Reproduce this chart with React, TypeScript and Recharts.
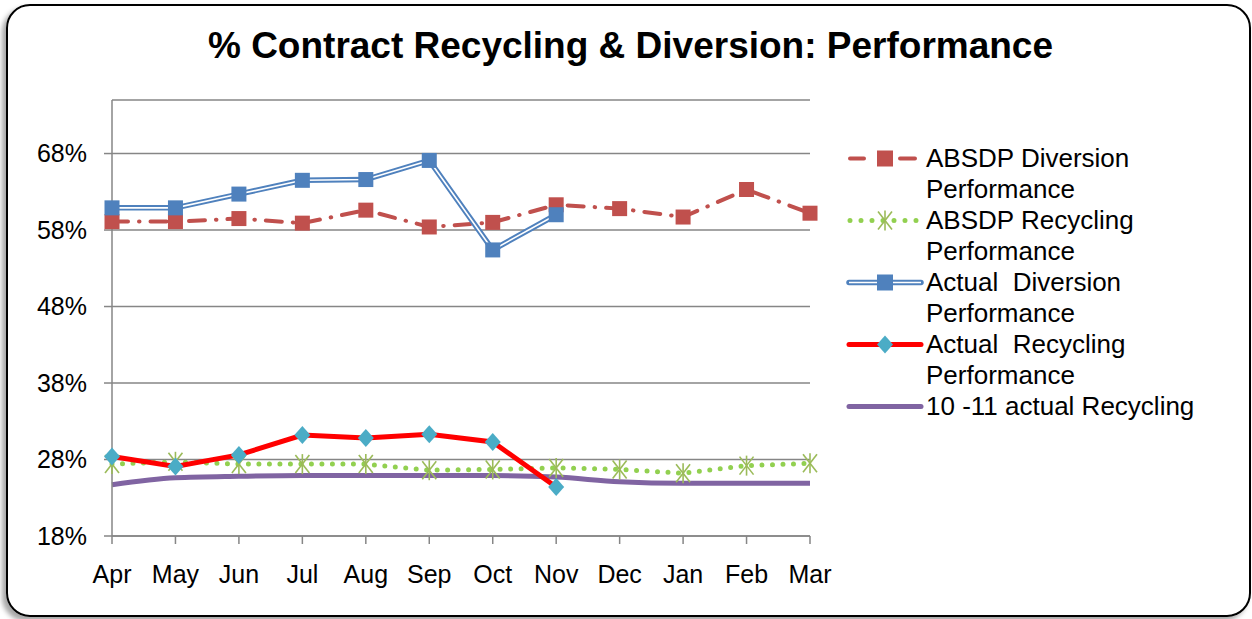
import { LineChart, Line, XAxis, YAxis, CartesianGrid } from "recharts";

const months = ["Apr", "May", "Jun", "Jul", "Aug", "Sep", "Oct", "Nov", "Dec", "Jan", "Feb", "Mar"];
const absdpDiversion = [0.591, 0.591, 0.595, 0.589, 0.606, 0.584, 0.59, 0.613, 0.608, 0.597, 0.633, 0.602];
const absdpRecycling = [0.274, 0.277, 0.274, 0.274, 0.274, 0.266, 0.267, 0.269, 0.267, 0.262, 0.272, 0.275];
const actualDiversion = [0.609, 0.609, 0.627, 0.645, 0.646, 0.671, 0.554, 0.6, null, null, null, null];
const actualRecycling = [0.284, 0.271, 0.286, 0.312, 0.308, 0.313, 0.303, 0.244, null, null, null, null];
const lastYearRecycling = [0.247, 0.256, 0.258, 0.259, 0.259, 0.259, 0.259, 0.257, 0.251, 0.249, 0.249, 0.249];
const yTicks = [0.18, 0.28, 0.38, 0.48, 0.58, 0.68];

const legendNames = [
  "ABSDP Diversion Performance",
  "ABSDP Recycling Performance",
  "Actual  Diversion Performance",
  "Actual  Recycling Performance",
  "10 -11 actual Recycling",
];

const data = months.map((m, i) => ({
  month: m,
  absdpDiv: absdpDiversion[i],
  absdpRec: absdpRecycling[i],
  actDiv: actualDiversion[i],
  actRec: actualRecycling[i],
  lastRec: lastYearRecycling[i],
}));

const FONT = "'Liberation Sans', Arial, sans-serif";
const RED = "#C0504D";
const GREEN = "#92D050";
const OLIVE = "#9BBB59";
const BLUE = "#4F81BD";
const CYAN = "#4BACC6";
const PURPLE = "#8064A2";
const AXIS = "#868686";

const Square = (color: string) => (props: any) => {
  const { cx, cy, index } = props;
  if (cx == null || cy == null) return <g key={index} />;
  return <rect key={index} x={cx - 7.5} y={cy - 7.5} width={15} height={15} fill={color} />;
};

const Star = (props: any) => {
  const { cx, cy, index } = props;
  if (cx == null || cy == null) return <g key={index} />;
  return (
    <g key={index} stroke={OLIVE} strokeWidth={1.6}>
      <line x1={cx - 7} y1={cy - 9} x2={cx + 7} y2={cy + 9} />
      <line x1={cx + 7} y1={cy - 9} x2={cx - 7} y2={cy + 9} />
      <line x1={cx} y1={cy - 10} x2={cx} y2={cy + 10} />
    </g>
  );
};

const Diamond = (props: any) => {
  const { cx, cy, index } = props;
  if (cx == null || cy == null) return <g key={index} />;
  return (
    <polygon
      key={index}
      points={`${cx},${cy - 9} ${cx + 8},${cy} ${cx},${cy + 9} ${cx - 8},${cy}`}
      fill={CYAN}
    />
  );
};

function LegendIcon({ kind }: { kind: number }) {
  const y = 15.5;
  return (
    <svg width={81} height={31} style={{ flex: "none" }}>
      {kind === 0 && (
        <g>
          <line x1={5} y1={y} x2={19} y2={y} stroke={RED} strokeWidth={4} strokeLinecap="round" />
          <rect x={32} y={y - 8} width={16} height={16} fill={RED} />
          <line x1={55} y1={y} x2={70} y2={y} stroke={RED} strokeWidth={4} strokeLinecap="round" />
        </g>
      )}
      {kind === 1 && (
        <g>
          <line x1={5} y1={y} x2={74} y2={y} stroke={GREEN} strokeWidth={5} strokeLinecap="round" strokeDasharray="0 11" />
          <g stroke={OLIVE} strokeWidth={1.6}>
            <line x1={33} y1={y - 9} x2={47} y2={y + 9} />
            <line x1={47} y1={y - 9} x2={33} y2={y + 9} />
            <line x1={40} y1={y - 10} x2={40} y2={y + 10} />
          </g>
        </g>
      )}
      {kind === 2 && (
        <g>
          <line x1={4} y1={y} x2={76} y2={y} stroke={BLUE} strokeWidth={5.5} strokeLinecap="round" />
          <line x1={4} y1={y} x2={76} y2={y} stroke="#fff" strokeWidth={1.6} />
          <rect x={32} y={y - 8} width={16} height={16} fill={BLUE} />
        </g>
      )}
      {kind === 3 && (
        <g>
          <line x1={4} y1={y} x2={76} y2={y} stroke="#FF0000" strokeWidth={5} strokeLinecap="round" />
          <polygon points={`40,${y - 9} 48,${y} 40,${y + 9} 32,${y}`} fill={CYAN} />
        </g>
      )}
      {kind === 4 && (
        <line x1={4} y1={y} x2={76} y2={y} stroke={PURPLE} strokeWidth={5} strokeLinecap="round" />
      )}
    </svg>
  );
}

export default function App() {
  return (
    <div style={{ position: "absolute", left: 0, top: 0, width: 1252, height: 619, background: "#fff", fontFamily: FONT }}>
      <div
        style={{
          position: "absolute",
          left: 6,
          top: 4,
          width: 1241,
          height: 609,
          border: "2.5px solid #000",
          borderRadius: 24,
          boxShadow: "-4px 4px 5px rgba(0,0,0,0.35)",
        }}
      />
      <div
        style={{
          position: "absolute",
          left: 8,
          top: 25,
          width: 1245,
          textAlign: "center",
          fontSize: 37,
          lineHeight: "42px",
          fontWeight: "bold",
          color: "#000",
        }}
      >
        % Contract Recycling &amp; Diversion: Performance
      </div>
      <div style={{ position: "absolute", left: 0, top: 0 }}>
        <LineChart width={1252} height={619} data={data} margin={{ top: 100, right: 442, bottom: 33, left: 32 }}>
          <CartesianGrid vertical={false} stroke={AXIS} strokeWidth={1.5} />
          <XAxis
            dataKey="month"
            interval={0}
            height={50}
            stroke={AXIS}
            strokeWidth={1.5}
            tickSize={8}
            tickMargin={21}
            tick={{ fill: "#000", fontSize: 25, fontFamily: FONT }}
          />
          <YAxis
            domain={[0.18, 0.75]}
            ticks={yTicks}
            width={80}
            stroke={AXIS}
            strokeWidth={1.5}
            tickSize={8}
            tickMargin={17}
            tickFormatter={(v: number) => `${Math.round(v * 100)}%`}
            tick={{ fill: "#000", fontSize: 25, fontFamily: FONT }}
          />
          <Line
            type="monotone"
            dataKey="lastRec"
            stroke={PURPLE}
            strokeWidth={5}
            dot={false}
            isAnimationActive={false}
          />
          <Line
            type="linear"
            dataKey="absdpRec"
            stroke={GREEN}
            strokeWidth={5}
            strokeLinecap="round"
            strokeDasharray="0 10.5"
            dot={Star}
            isAnimationActive={false}
          />
          <Line
            type="linear"
            dataKey="absdpDiv"
            stroke={RED}
            strokeWidth={4}
            strokeLinecap="round"
            strokeDasharray="16 11 0.5 11"
            dot={Square(RED)}
            isAnimationActive={false}
          />
          <Line
            type="linear"
            dataKey="actDiv"
            stroke={BLUE}
            strokeWidth={5.5}
            dot={false}
            isAnimationActive={false}
          />
          <Line
            type="linear"
            dataKey="actDiv"
            stroke="#fff"
            strokeWidth={1.6}
            dot={Square(BLUE)}
            isAnimationActive={false}
          />
          <Line
            type="linear"
            dataKey="actRec"
            stroke="#FF0000"
            strokeWidth={5}
            dot={Diamond}
            isAnimationActive={false}
          />
        </LineChart>
      </div>
      <div style={{ position: "absolute", left: 845, top: 143, width: 390 }}>
        {legendNames.map((name, i) => (
          <div key={name} style={{ display: "flex", alignItems: "flex-start" }}>
            <LegendIcon kind={i} />
            <div style={{ fontSize: 26, lineHeight: "31px", width: 300, whiteSpace: "pre-wrap", color: "#000" }}>
              {name}
            </div>
          </div>
        ))}
      </div>
    </div>
  );
}
